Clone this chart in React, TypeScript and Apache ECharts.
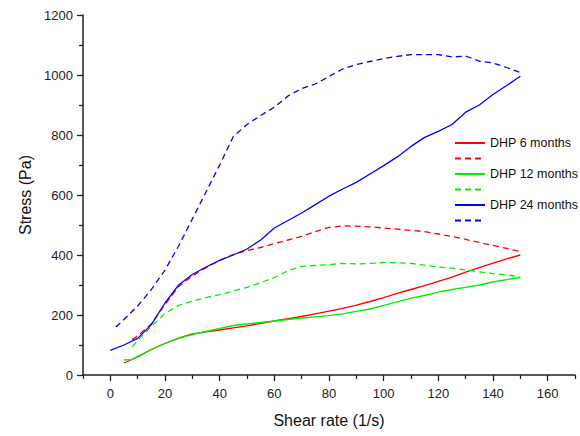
import React, { useEffect, useRef } from "react";
import * as echarts from "echarts";

const FONT = "'Liberation Sans', Arial, sans-serif";

const seriesNames = ["DHP 6 months", "\u00a0", "DHP 12 months", "\u00a0\u00a0", "DHP 24 months", "\u00a0\u00a0\u00a0"];
const colors = ["#ff0000", "#ff0000", "#00ee00", "#00ee00", "#0000ff", "#0000ff"];
const dashed = [false, true, false, true, false, true];

const red6Solid: number[][] = [
  [5, 40], [10, 60], [15, 85], [20, 105], [25, 123], [30, 137], [35, 144], [40, 150], [45, 157], [50, 164],
  [55, 172], [60, 180], [65, 188], [70, 195], [75, 204], [80, 213], [85, 222], [90, 233], [95, 245], [100, 258],
  [105, 272], [110, 285], [115, 298], [120, 312], [125, 326], [130, 343], [135, 358], [140, 373], [145, 387], [150, 400],
];
const red6Dashed: number[][] = [
  [8, 118], [10, 130], [15, 170], [20, 235], [25, 295], [30, 330], [35, 358], [40, 382], [45, 402], [50, 415],
  [55, 425], [60, 438], [65, 450], [70, 462], [75, 478], [80, 492], [85, 497], [90, 496], [95, 494], [100, 490],
  [105, 486], [110, 482], [115, 478], [120, 470], [125, 462], [130, 452], [135, 442], [140, 432], [145, 422], [150, 411],
];
const green12Solid: number[][] = [
  [5, 50], [8, 52], [10, 62], [15, 85], [20, 105], [25, 122], [30, 135], [35, 145], [40, 155], [45, 165],
  [50, 170], [55, 175], [60, 180], [65, 185], [70, 190], [75, 194], [80, 198], [85, 204], [90, 212], [95, 220],
  [100, 232], [105, 244], [110, 256], [115, 265], [120, 276], [125, 285], [130, 292], [135, 300], [140, 310], [145, 318], [150, 325],
];
const green12Dashed: number[][] = [
  [8, 95], [10, 115], [15, 162], [20, 205], [25, 232], [30, 246], [35, 258], [40, 268], [45, 280], [50, 292],
  [55, 308], [60, 325], [65, 348], [70, 362], [75, 365], [80, 368], [85, 372], [90, 370], [95, 372], [100, 375],
  [105, 374], [110, 372], [115, 366], [120, 360], [125, 356], [130, 350], [135, 344], [140, 338], [145, 334], [150, 326],
];
const blue24Solid: number[][] = [
  [0, 82], [5, 100], [10, 122], [15, 168], [20, 240], [25, 300], [30, 335], [35, 360], [40, 382], [45, 400],
  [50, 420], [55, 450], [60, 490], [65, 515], [70, 540], [75, 568], [80, 596], [85, 620], [90, 642], [95, 670],
  [100, 698], [105, 727], [110, 762], [115, 792], [120, 812], [125, 835], [130, 876], [135, 900], [140, 935], [145, 965], [150, 996],
];
const blue24Dashed: number[][] = [
  [2, 160], [5, 185], [10, 230], [15, 285], [20, 350], [25, 430], [30, 520], [35, 610], [40, 700], [45, 795],
  [50, 835], [55, 865], [60, 893], [65, 930], [70, 955], [75, 970], [80, 995], [85, 1020], [90, 1035], [95, 1045],
  [100, 1055], [105, 1062], [110, 1068], [115, 1068], [120, 1068], [125, 1060], [130, 1063], [135, 1046], [140, 1040], [145, 1025], [150, 1008],
];
const seriesData = [red6Solid, red6Dashed, green12Solid, green12Dashed, blue24Solid, blue24Dashed];

const xMajorTicks = [0, 20, 40, 60, 80, 100, 120, 140, 160];
const xMinorTicks = [-10, 10, 30, 50, 70, 90, 110, 130, 150, 170];

export default function App() {
  const ref = useRef<HTMLDivElement>(null);
  useEffect(() => {
    if (!ref.current) return;
    const chart = echarts.init(ref.current, null, { renderer: "svg" });
    const axisLine = { show: true, onZero: false, lineStyle: { color: "#222", width: 1.5 } };
    chart.setOption({
      animation: false,
      backgroundColor: "#fff",
      grid: { left: 83, right: 5, top: 15, bottom: 61 },
      legend: {
        orient: "vertical",
        left: 454,
        top: 136,
        padding: 0,
        itemWidth: 30,
        itemHeight: 10,
        itemGap: 1.5,
        data: seriesNames,
        itemStyle: { color: "rgba(0,0,0,0)", borderWidth: 0, opacity: 0 },
        textStyle: { fontFamily: FONT, fontSize: 12.5, lineHeight: 14, color: "#111" },
      },
      xAxis: [
        {
          type: "value",
          min: -10,
          max: 170,
          interval: 10,
          name: "Shear rate (1/s)",
          nameLocation: "middle",
          nameGap: 37,
          nameTextStyle: { fontFamily: FONT, fontSize: 16, color: "#111" },
          axisLine,
          axisTick: { show: true, inside: false, length: 6, customValues: xMajorTicks, lineStyle: { color: "#222", width: 1.3 } },
          axisLabel: { customValues: xMajorTicks, margin: 12, fontFamily: FONT, fontSize: 13, color: "#222", formatter: (v: number) => String(v) },
          splitLine: { show: false },
        },
        {
          type: "value",
          min: -10,
          max: 170,
          interval: 10,
          position: "bottom",
          axisLine: { show: false },
          axisTick: { show: true, inside: false, length: 4, customValues: xMinorTicks, lineStyle: { color: "#222", width: 1.3 } },
          axisLabel: { show: false },
          splitLine: { show: false },
        },
      ],
      yAxis: {
        type: "value",
        min: 0,
        max: 1200,
        interval: 200,
        name: "Stress (Pa)",
        nameLocation: "middle",
        nameGap: 40,
        nameTextStyle: { fontFamily: FONT, fontSize: 16, color: "#111" },
        axisLine,
        axisTick: { show: true, inside: false, length: 6, lineStyle: { color: "#222", width: 1.3 } },
        minorTick: { show: true, splitNumber: 2, length: 4, lineStyle: { color: "#222", width: 1.3 } },
        axisLabel: { margin: 10, fontFamily: FONT, fontSize: 13, color: "#222", formatter: (v: number) => String(v) },
        splitLine: { show: false },
      },
      series: seriesNames.map((name, i) => ({
        name,
        type: "line",
        xAxisIndex: 0,
        data: seriesData[i],
        symbol: "none",
        showSymbol: false,
        smooth: false,
        color: colors[i],
        lineStyle: { color: colors[i], width: 1.3, type: dashed[i] ? [6, 4] : "solid" },
      })),
    });
    return () => chart.dispose();
  }, []);
  return <div ref={ref} style={{ width: 580, height: 436, position: "absolute", left: 0, top: 0 }} />;
}
